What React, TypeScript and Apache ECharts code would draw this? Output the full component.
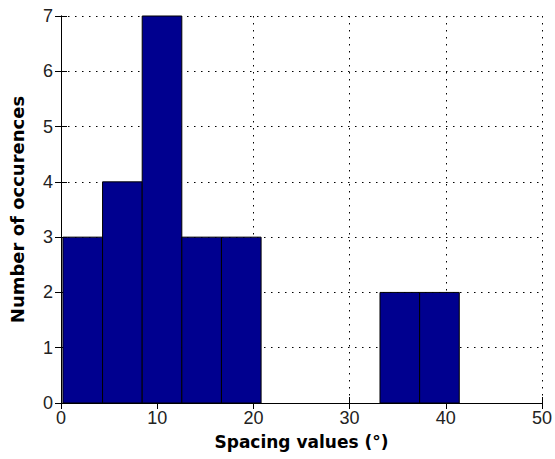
import React, { useEffect, useRef } from "react";
import * as echarts from "echarts";

const binEdges = [0.2, 4.32, 8.44, 12.56, 16.68, 20.8, 24.92, 29.04, 33.16, 37.28, 41.4];
const counts = [3, 4, 7, 3, 3, 0, 0, 0, 2, 2];
const xTicks = { min: 0, max: 50, interval: 10 };
const yTicks = { min: 0, max: 7, interval: 1 };
const xTitle = "Spacing values (°)";
const yTitle = "Number of occurences";

export default function App() {
  const ref = useRef<HTMLDivElement>(null);
  useEffect(() => {
    if (!ref.current) return;
    const chart = echarts.init(ref.current, null, { renderer: "svg" });
    const data = counts.map((c, i) => [binEdges[i], binEdges[i + 1], c]);
    const font = "'Liberation Sans', Arial, sans-serif";
    const titleFont = "'DejaVu Sans', sans-serif";
    const axisLine = { show: true, lineStyle: { color: "#000", width: 1 } };
    const tick = { show: true, inside: true, length: 6, lineStyle: { color: "#000", width: 1 } };
    const grid = { show: true, lineStyle: { color: "#000", width: 1, type: [1.5, 5.5] as any } };
    chart.setOption({
      animation: false,
      backgroundColor: "#fff",
      grid: { left: 61, right: 10, top: 16, bottom: 56 },
      xAxis: [
        {
          type: "value",
          ...xTicks,
          position: "bottom",
          axisLine,
          axisTick: tick,
          splitLine: grid,
          axisLabel: { color: "#222", fontFamily: font, fontSize: 18, margin: 6 },
          name: xTitle,
          nameLocation: "middle",
          nameGap: 30,
          nameTextStyle: { color: "#000", fontFamily: titleFont, fontSize: 17, fontWeight: "bold" },
        },
        {
          type: "value",
          ...xTicks,
          position: "top",
          axisLine,
          axisTick: tick,
          splitLine: { show: false },
          axisLabel: { show: false },
        },
      ],
      yAxis: [
        {
          type: "value",
          ...yTicks,
          position: "left",
          axisLine,
          axisTick: tick,
          splitLine: grid,
          axisLabel: { color: "#222", fontFamily: font, fontSize: 18, margin: 8 },
          name: yTitle,
          nameLocation: "middle",
          nameGap: 35,
          nameTextStyle: { color: "#000", fontFamily: titleFont, fontSize: 18, fontWeight: "bold" },
        },
        {
          type: "value",
          ...yTicks,
          position: "right",
          axisLine,
          axisTick: tick,
          splitLine: { show: false },
          axisLabel: { show: false },
        },
      ],
      series: [
        {
          type: "custom",
          xAxisIndex: 0,
          yAxisIndex: 0,
          z: 5,
          encode: { x: [0, 1], y: 2 },
          data,
          renderItem: (params: any, api: any) => {
            const c = api.value(2);
            if (!c) return null;
            const p0 = api.coord([api.value(0), c]);
            const p1 = api.coord([api.value(1), 0]);
            return {
              type: "rect",
              shape: { x: p0[0], y: p0[1], width: p1[0] - p0[0], height: p1[1] - p0[1] },
              style: { fill: "#00008f", stroke: "#000", lineWidth: 1 },
            };
          },
        },
      ],
    });
    return () => chart.dispose();
  }, []);
  return <div ref={ref} style={{ position: "fixed", left: 0, top: 0, width: 555, height: 459 }} />;
}
